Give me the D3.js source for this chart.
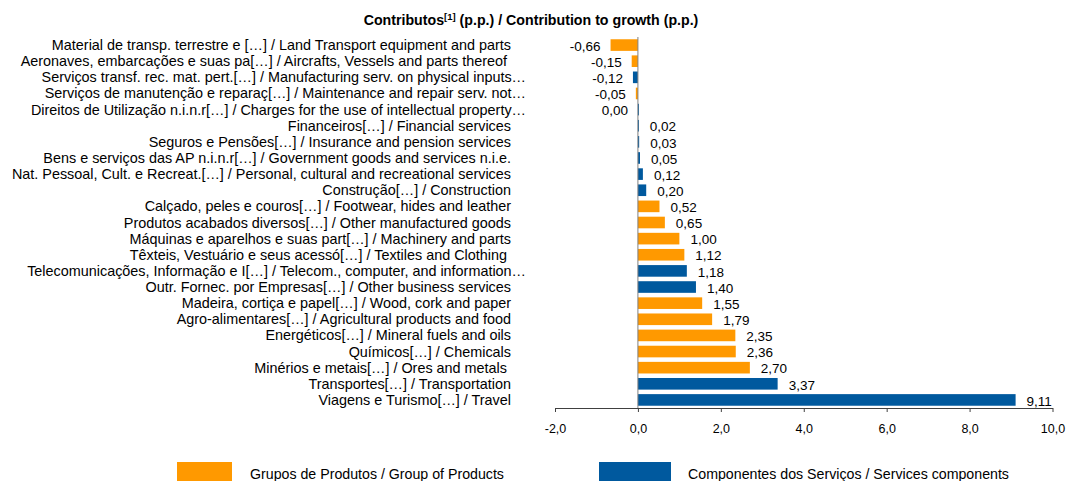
<!DOCTYPE html>
<html>
<head>
<meta charset="utf-8">
<script src="https://cdn.jsdelivr.net/npm/d3@7"></script>
<style>
  body { margin: 0; background: #fff; }
  svg text { font-family: "Liberation Sans", Arial, sans-serif; fill: #000; }
</style>
</head>
<body>
<div id="chart"></div>
<script>
// categories, top to bottom
const categories = [
    "Material de transp. terrestre e […] / Land Transport equipment and parts",
    "Aeronaves, embarcações e suas pa[…] / Aircrafts, Vessels and parts thereof ",
    "Serviços transf. rec. mat. pert.[…] / Manufacturing serv. on physical inputs…",
    "Serviços de manutenção e reparaç[…] / Maintenance and repair serv. not…",
    "Direitos de Utilização n.i.n.r[…] / Charges for the use of intellectual property…",
    "Financeiros[…] / Financial services",
    "Seguros e Pensões[…] / Insurance and pension services",
    "Bens e serviços das AP n.i.n.r[…] / Government goods and services n.i.e.",
    "Nat. Pessoal, Cult. e Recreat.[…] / Personal, cultural and recreational services",
    "Construção[…] / Construction",
    "Calçado, peles e couros[…] / Footwear, hides and leather",
    "Produtos acabados diversos[…] / Other manufactured goods",
    "Máquinas e aparelhos e suas part[…] / Machinery and parts",
    "Têxteis, Vestuário e seus acessó[…] / Textiles and Clothing ",
    "Telecomunicações, Informação e I[…] / Telecom., computer, and information…",
    "Outr. Fornec. por Empresas[…] / Other business services",
    "Madeira, cortiça e papel[…] / Wood, cork and paper",
    "Agro-alimentares[…] / Agricultural products and food",
    "Energéticos[…] / Mineral fuels and oils",
    "Químicos[…] / Chemicals",
    "Minérios e metais[…] / Ores and metals ",
    "Transportes[…] / Transportation",
    "Viagens e Turismo[…] / Travel"
];
const values = [-0.66, -0.15, -0.12, -0.05, 0.00, 0.02, 0.03, 0.05, 0.12, 0.20,
    0.52, 0.65, 1.00, 1.12, 1.18, 1.40, 1.55, 1.79, 2.35, 2.36, 2.70, 3.37, 9.11];
// G = grupos de produtos, S = componentes dos servicos
const groups = ["G", "G", "S", "G", "S", "S", "S", "S", "S", "S",
    "G", "G", "G", "G", "S", "S", "G", "G", "G", "G", "G", "S", "S"];
const xTicks = [-2, 0, 2, 4, 6, 8, 10];
const legendLabels = ["Grupos de Produtos / Group of Products", "Componentes dos Serviços / Services components"];

const colors = { G: "#FF9900", S: "#00599E" };
// comma decimals, plain hyphen for negatives
const fmt2 = v => d3.format(".2f")(v).replace(".", ",").replace("−", "-");
const fmt1 = v => d3.format(".1f")(v).replace(".", ",").replace("−", "-");

const width = 1071, height = 481;
const svg = d3.select("#chart").append("svg")
    .attr("width", width)
    .attr("height", height);

const x = d3.scaleLinear().domain([-2, 10]).range([555, 1052.5]);
const y = d3.scaleBand().domain(categories).range([37, 408])
    .paddingInner(0.28).paddingOuter(0.14);

// title
const title = svg.append("text")
    .attr("x", 531).attr("y", 25)
    .attr("text-anchor", "middle")
    .style("font-size", "14.2px")
    .style("font-weight", "bold");
title.append("tspan").text("Contributos");
title.append("tspan").attr("dy", -5).style("font-size", "9.5px").text("[1]");
title.append("tspan").attr("dy", 5).text(" (p.p.) / Contribution to growth (p.p.)");

// bars
const rows = categories.map((c, i) => ({ cat: c, value: values[i], group: groups[i] }));

svg.selectAll(".bar")
    .data(rows)
    .enter()
    .append("rect")
    .attr("class", "bar")
    .attr("x", d => x(Math.min(0, d.value)))
    .attr("y", d => y(d.cat))
    .attr("width", d => Math.max(Math.abs(x(d.value) - x(0)), 1))
    .attr("height", y.bandwidth())
    .attr("fill", d => colors[d.group]);

// category labels
svg.selectAll(".cat")
    .data(rows)
    .enter()
    .append("text")
    .attr("class", "cat")
    .attr("x", d => d.cat.endsWith("…") ? 526 : 511)
    .attr("y", d => y(d.cat) + y.bandwidth() / 2)
    .attr("dy", "0.35em")
    .attr("text-anchor", "end")
    .style("font-size", "14.4px")
    .style("white-space", "pre")
    .text(d => d.cat);

// value labels
svg.selectAll(".val")
    .data(rows)
    .enter()
    .append("text")
    .attr("class", "val")
    .attr("x", d => d.value > 0 ? x(d.value) + 11 : x(Math.min(0, d.value)) - 10)
    .attr("y", d => y(d.cat) + y.bandwidth() / 2 + 1)
    .attr("dy", "0.35em")
    .attr("text-anchor", d => d.value > 0 ? "start" : "end")
    .style("font-size", "13.5px")
    .text(d => fmt2(d.value));

// zero line
svg.append("line")
    .attr("x1", x(0)).attr("x2", x(0))
    .attr("y1", 37).attr("y2", 408)
    .attr("stroke", "#808080")
    .attr("stroke-width", 1);

// x axis
const xAxis = svg.append("g")
    .attr("transform", "translate(0,408)")
    .call(d3.axisBottom(x).tickValues(xTicks).tickSize(4).tickSizeOuter(0)
        .tickFormat(fmt1));
xAxis.select(".domain").attr("stroke", "#404040");
xAxis.selectAll(".tick line").attr("stroke", "#404040");
xAxis.selectAll("text")
    .attr("y", 21)
    .attr("dy", "0.35em")
    .style("font-size", "12.5px")
    .attr("fill", "#000");

// legend
const legend = svg.selectAll(".legend")
    .data(legendLabels)
    .enter()
    .append("g")
    .attr("class", "legend")
    .attr("transform", (d, i) => `translate(${i === 0 ? 177 : 599},462)`);
legend.append("rect")
    .attr("width", (d, i) => i === 0 ? 55 : 72)
    .attr("height", 19)
    .attr("fill", (d, i) => i === 0 ? colors.G : colors.S);
legend.append("text")
    .attr("x", (d, i) => i === 0 ? 73 : 89)
    .attr("y", 12)
    .attr("dy", "0.35em")
    .style("font-size", "14.2px")
    .text(d => d);
</script>
</body>
</html>
